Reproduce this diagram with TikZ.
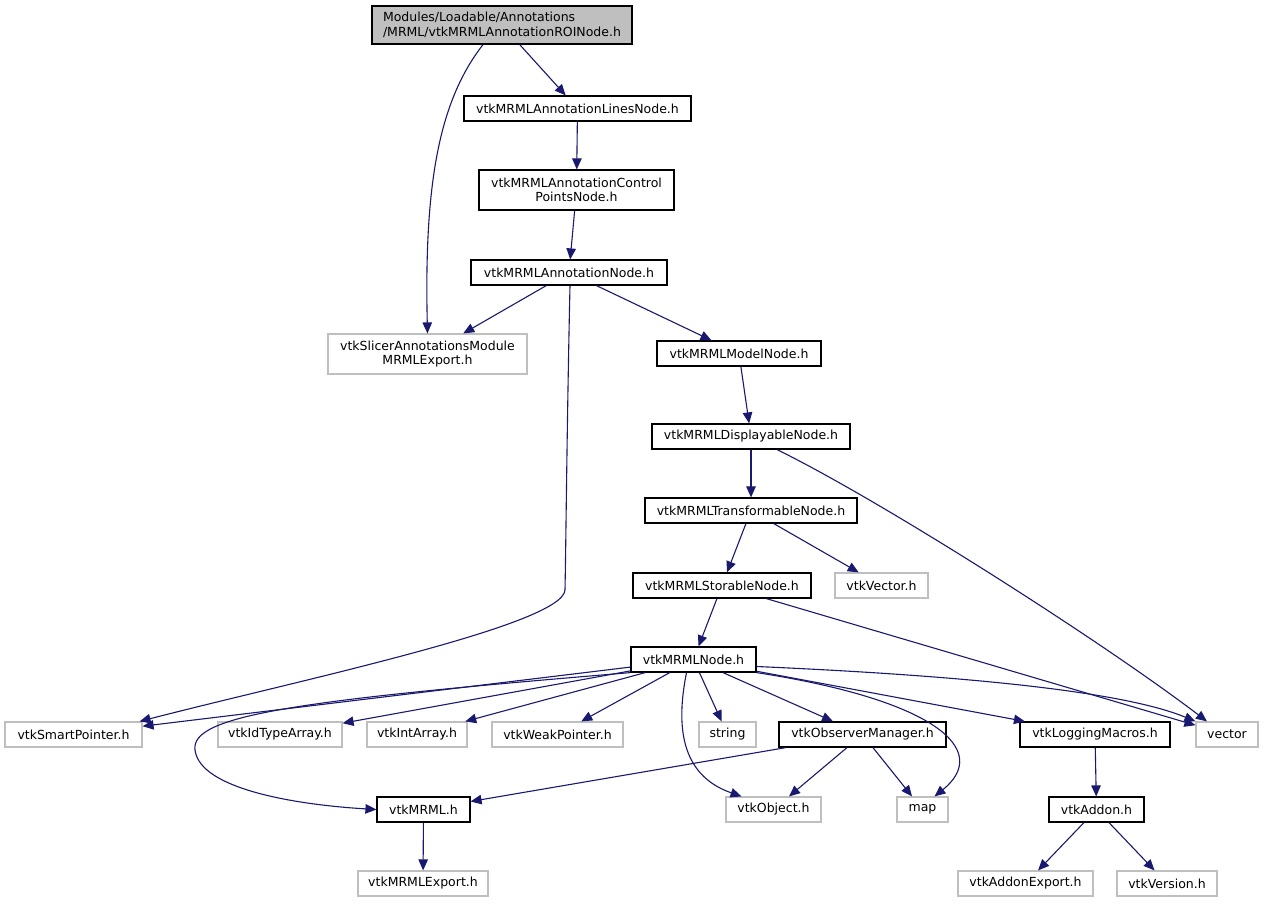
\documentclass[tikz,border=0pt]{standalone}
\usepackage{fontspec}
\setmainfont{DejaVu Sans}
\usetikzlibrary{arrows.meta, positioning}

\definecolor{kante}{RGB}{25,25,112}
\definecolor{grau}{RGB}{191,191,191}

\begin{document}
\begin{tikzpicture}[x=1pt, y=-1pt,
    font=\fontsize{12.5}{14.5}\selectfont,
    datei/.style={draw=black, line width=1.2pt, fill=white, inner sep=0pt, align=center, minimum height=25pt},
    extern/.style={datei, draw=grau},
    wurzel/.style={datei, fill=grau, align=left},
    pfeil/.style={draw=kante, line width=1.1pt, -{Triangle[length=11pt,width=9.5pt]}}]
			% Rahmen
			\fill[white] (0,0) rectangle (1264,903);
			\useasboundingbox (0,0) rectangle (1264,903);
			
			% Knoten oben
			\node[wurzel, minimum width=260pt, minimum height=38pt] (root) at (502,25) {Modules/Loadable/Annotations\\/MRML/vtkMRMLAnnotationROINode.h};
			\node[datei, minimum width=227pt] (lines) at (577.5,108.5) {vtkMRMLAnnotationLinesNode.h};
			\node[datei, minimum width=195pt, minimum height=40pt] (ctrl) at (576.5,190) {vtkMRMLAnnotationControl\\PointsNode.h};
			\node[datei, minimum width=196pt] (annot) at (569,272.5) {vtkMRMLAnnotationNode.h};
			\node[extern, minimum width=199pt, minimum height=40pt] (slicerexp) at (427.5,354) {vtkSlicerAnnotationsModule\\MRMLExport.h};
			\node[datei, minimum width=164pt] (model) at (739,353.5) {vtkMRMLModelNode.h};
			\node[datei, minimum width=198pt] (displ) at (751,436.5) {vtkMRMLDisplayableNode.h};
			\node[datei, minimum width=212pt] (transf) at (751,510.5) {vtkMRMLTransformableNode.h};
			\node[datei, minimum width=178pt] (stor) at (722,585.5) {vtkMRMLStorableNode.h};
			\node[extern, minimum width=93pt] (vtkvec) at (881.5,585.5) {vtkVector.h};
			\node[datei, minimum width=125pt] (mrmlnode) at (693.5,659.5) {vtkMRMLNode.h};
			
			% Knoten Mitte
			\node[extern, minimum width=137pt] (smartptr) at (73.5,734.5) {vtkSmartPointer.h};
			\node[extern, minimum width=124pt] (idtype) at (280,734.5) {vtkIdTypeArray.h};
			\node[extern, minimum width=100pt] (intarr) at (417,734.5) {vtkIntArray.h};
			\node[extern, minimum width=131pt] (weakptr) at (557.5,734.5) {vtkWeakPointer.h};
			\node[extern, minimum width=57pt] (string) at (727.5,734.5) {string};
			\node[datei, minimum width=167pt] (observer) at (862.5,734.5) {vtkObserverManager.h};
			\node[datei, minimum width=150pt] (logging) at (1095,734.5) {vtkLoggingMacros.h};
			\node[extern, minimum width=62pt] (vector) at (1227,734.5) {vector};
			
			% Knoten unten
			\node[datei, minimum width=93pt] (vtkmrml) at (423.5,809.5) {vtkMRML.h};
			\node[extern, minimum width=95pt] (object) at (773.5,809.5) {vtkObject.h};
			\node[extern, minimum width=51pt] (map) at (922.5,809.5) {map};
			\node[datei, minimum width=95pt] (addon) at (1096.5,809.5) {vtkAddon.h};
			\node[extern, minimum width=130pt] (mrmlexp) at (423,883.5) {vtkMRMLExport.h};
			\node[extern, minimum width=135pt] (addonexp) at (1025.5,883.5) {vtkAddonExport.h};
			\node[extern, minimum width=100pt] (version) at (1167,883.5) {vtkVersion.h};
			
			% Kanten
			\draw[pfeil] (root) -- (lines);
			\draw[pfeil] ([xshift=-19pt]root.south) .. controls (440,100) and (424,180) .. (slicerexp.north);
			\draw[pfeil] (lines) -- (ctrl);
			\draw[pfeil] (ctrl) -- (annot);
			\draw[pfeil] (annot) -- (slicerexp);
			\draw[pfeil] (annot) -- (model);
			\draw[pfeil] ([xshift=1pt]annot.south) .. controls (567,420) and (566,540) .. (565,590)
			  .. controls (563,625) and (300,680) .. ([xshift=-3pt]smartptr.north east);
			\draw[pfeil] (model) -- (displ);
			\draw[pfeil] (displ) -- (transf);
			\draw[pfeil] ([xshift=26pt]displ.south) .. controls (880,500) and (1100,640) .. ([xshift=-20pt]vector.north);
			\draw[pfeil] (transf) -- (stor);
			\draw[pfeil] (transf) -- (vtkvec);
			\draw[pfeil] (stor) -- (mrmlnode);
			\draw[pfeil] (stor) -- (vector);
			
			% Kanten von vtkMRMLNode.h
			\draw[pfeil] (mrmlnode) -- (smartptr);
			\draw[pfeil] (mrmlnode.south west) .. controls (300,700) and (190,715) .. (195,750)
			  .. controls (200,790) and (300,805) .. (vtkmrml.west);
			\draw[pfeil] (mrmlnode) -- (idtype);
			\draw[pfeil] (mrmlnode) -- (intarr);
			\draw[pfeil] (mrmlnode) -- (weakptr);
			\draw[pfeil] ([xshift=-7pt]mrmlnode.south) .. controls (676,725) and (680,775) .. ([xshift=-32pt]object.north);
			\draw[pfeil] (mrmlnode) -- (string);
			\draw[pfeil] (mrmlnode) -- (observer);
			\draw[pfeil] (mrmlnode.south east) .. controls (935,700) and (992,750) .. ([xshift=12pt]map.north);
			\draw[pfeil] (mrmlnode) -- (logging);
			\draw[pfeil] ([yshift=-7pt]mrmlnode.east) .. controls (950,675) and (1120,690) .. (vector.north west);
			
			% Kanten unten
			\draw[pfeil] (observer) -- (vtkmrml);
			\draw[pfeil] (observer) -- (object);
			\draw[pfeil] (observer) -- (map);
			\draw[pfeil] (logging) -- (addon);
			\draw[pfeil] (vtkmrml) -- (mrmlexp);
			\draw[pfeil] (addon) -- (addonexp);
			\draw[pfeil] (addon) -- (version);
		\end{tikzpicture}
\end{document}
